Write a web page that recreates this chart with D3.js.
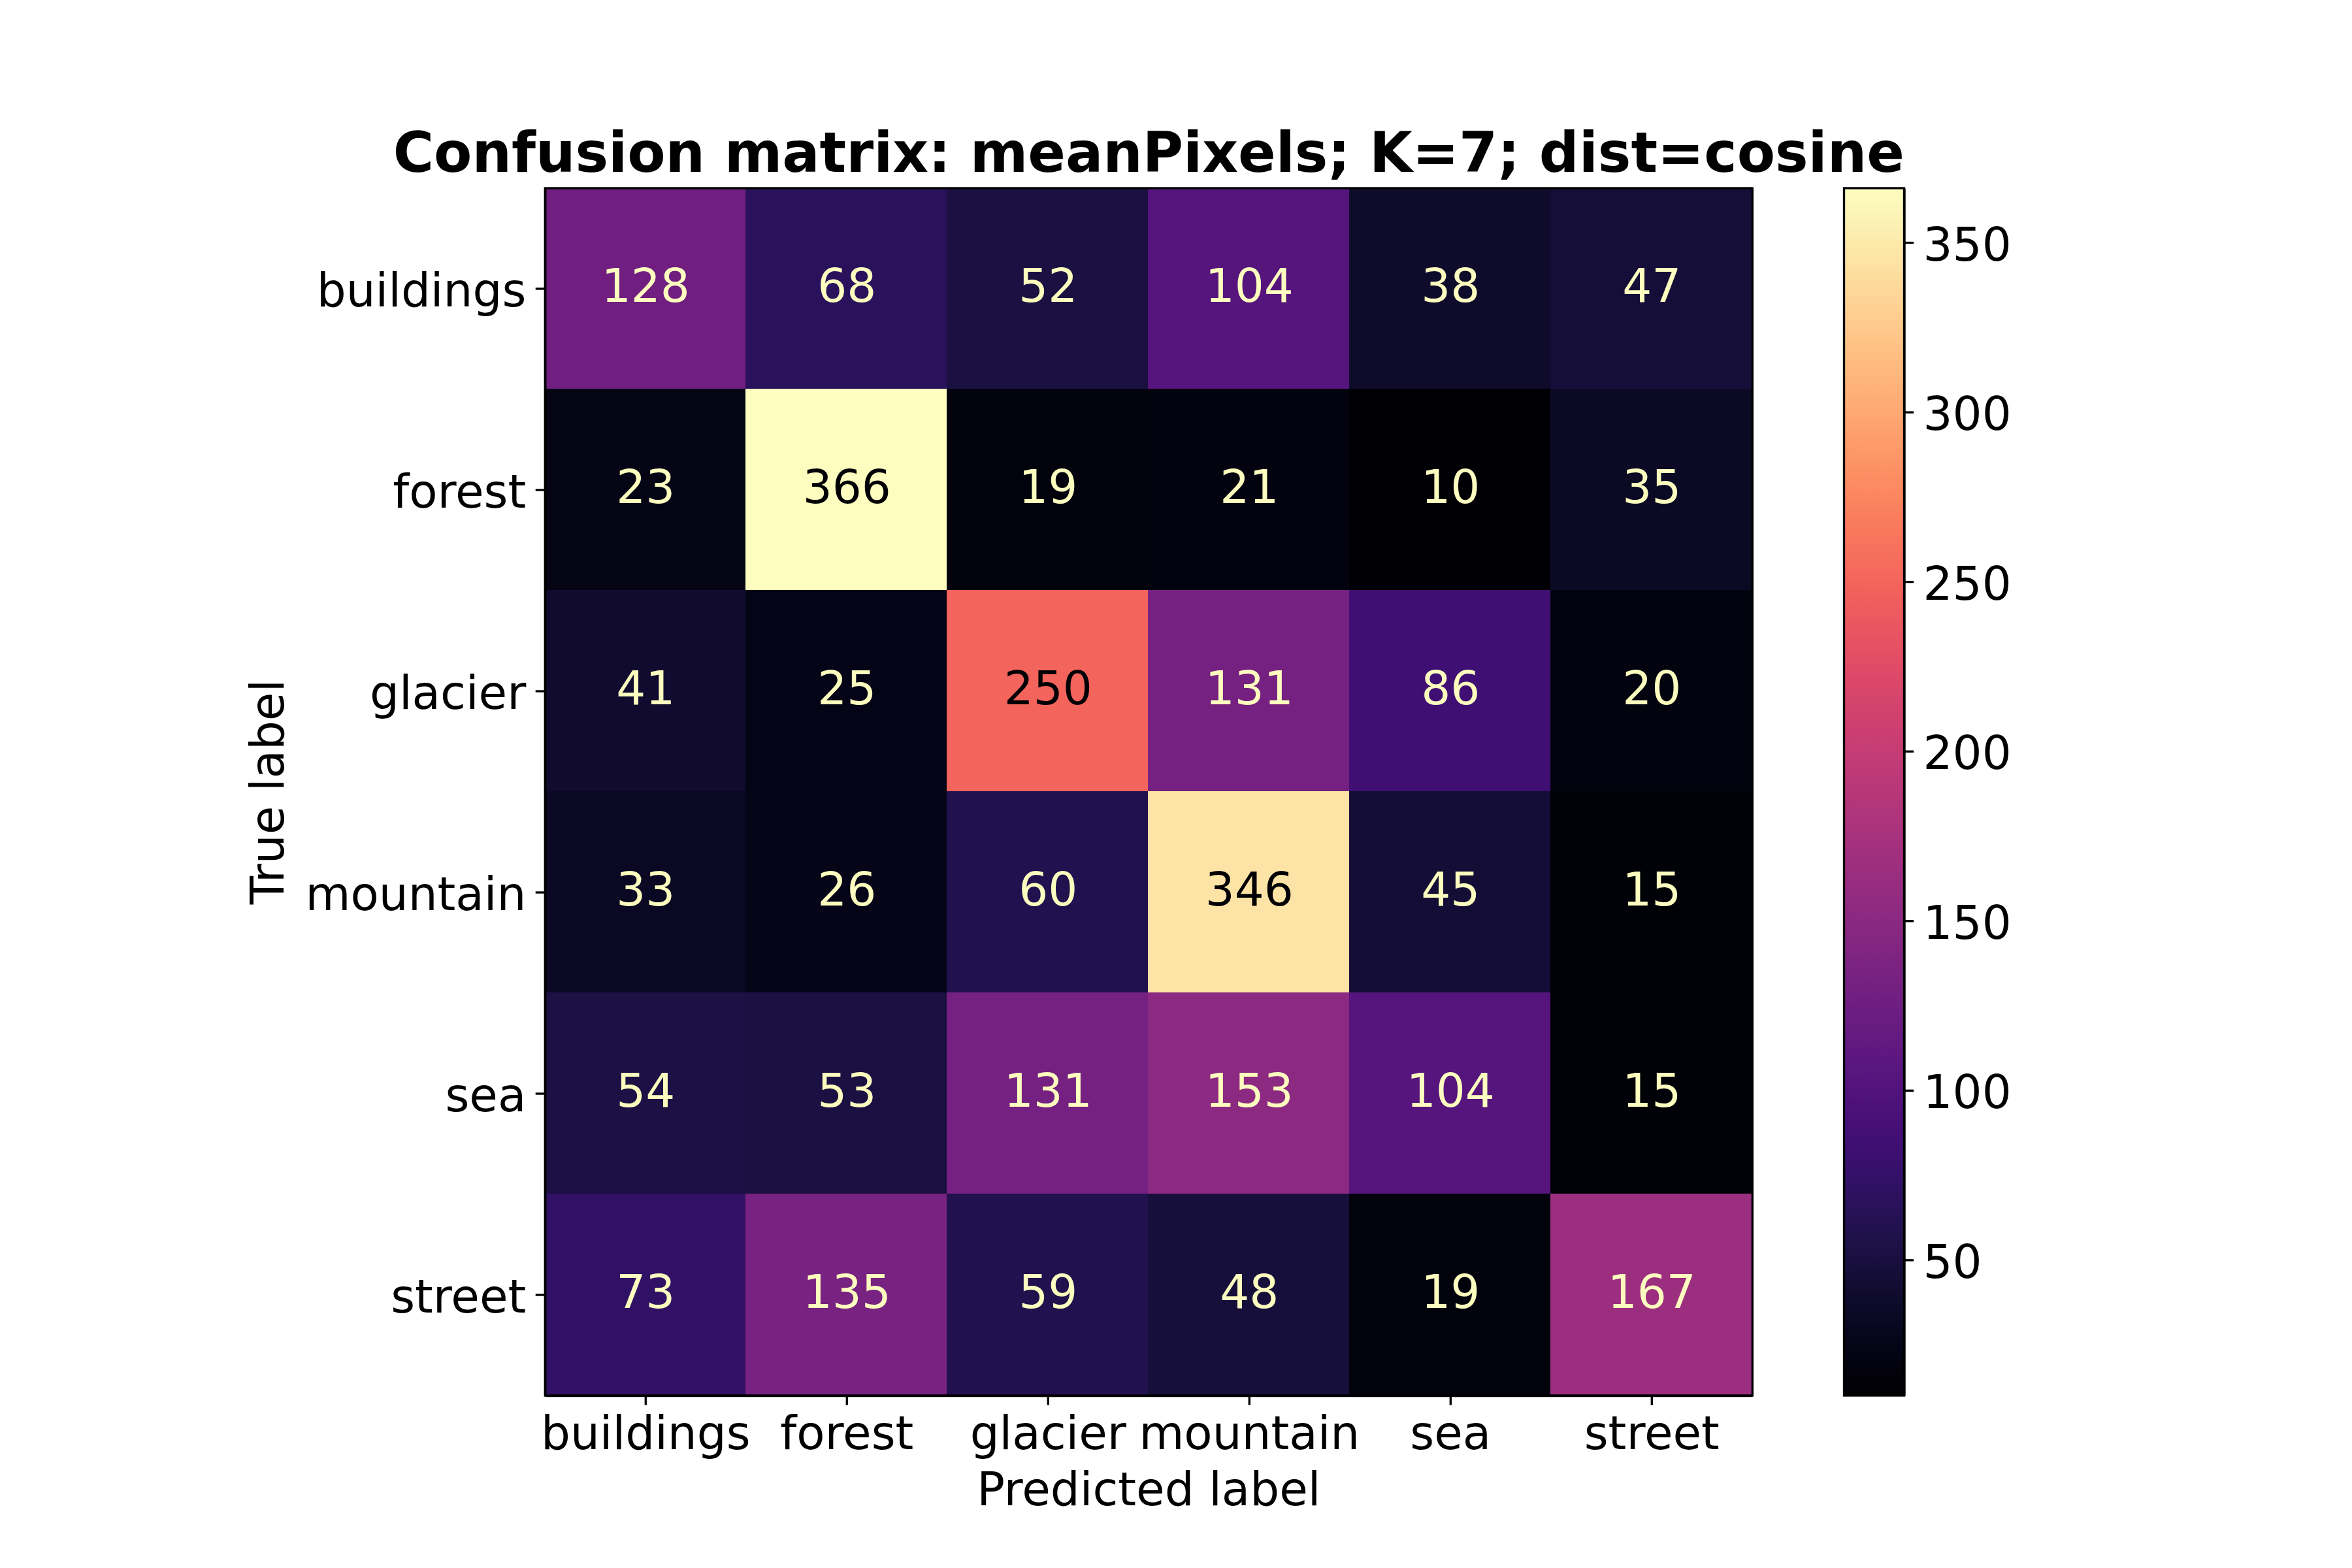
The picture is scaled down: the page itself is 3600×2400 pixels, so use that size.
<!DOCTYPE html>
<html>
<head>
<meta charset="utf-8">
<script src="https://d3js.org/d3.v7.min.js"></script>
<style>
body { margin: 0; background: white; }
text { font-family: "DejaVu Sans"; fill: black; }
</style>
</head>
<body>
<div id="chart"></div>
<script>
const categories = ["buildings", "forest", "glacier", "mountain", "sea", "street"]
const buildingsRow = [128, 68, 52, 104, 38, 47]
const forestRow = [23, 366, 19, 21, 10, 35]
const glacierRow = [41, 25, 250, 131, 86, 20]
const mountainRow = [33, 26, 60, 346, 45, 15]
const seaRow = [54, 53, 131, 153, 104, 15]
const streetRow = [73, 135, 59, 48, 19, 167]
const rows = [buildingsRow, forestRow, glacierRow, mountainRow, seaRow, streetRow]
const colorTicks = [50, 100, 150, 200, 250, 300, 350]
const colorDomain = [10, 366]

const width = 3600
const height = 2400
const pt = 300 / 72
const fontTick = 17 * pt
const plotLeft = 834.3, plotRight = 2682.3, plotTop = 288, plotBottom = 2136
const barLeft = 2822.5, barRight = 2914.5

const svg = d3.select("#chart").append("svg")
    .attr("width", width).attr("height", height)
    .style("display", "block")

const x = d3.scaleBand().domain(categories).range([plotLeft, plotRight])
const y = d3.scaleBand().domain(categories).range([plotTop, plotBottom])
const color = d3.scaleSequential(d3.interpolateMagma).domain(colorDomain)
const barY = d3.scaleLinear().domain(colorDomain).range([plotBottom, plotTop])

const cells = rows.flatMap((row, i) => row.map((value, j) => ({
    rowName: categories[i], colName: categories[j], value: value
})))

// the cell grid sits a pixel up and left of the ticks in the original
svg.append("g").attr("transform", "translate(-1,-1.3)")
    .selectAll("rect").data(cells)
    .join("rect")
        .attr("x", d => x(d.colName))
        .attr("y", d => y(d.rowName))
        .attr("width", x.bandwidth())
        .attr("height", y.bandwidth())
        .attr("fill", d => color(d.value))
        .attr("shape-rendering", "crispEdges")

// text flips to dark over the bright half of the colour range
const flip = (colorDomain[0] + colorDomain[1]) / 2
svg.append("g").selectAll("text").data(cells)
    .join("text")
        .attr("x", d => x(d.colName) + x.bandwidth() / 2)
        .attr("y", d => y(d.rowName) + y.bandwidth() / 2 + 20)
        .attr("text-anchor", "middle")
        .style("font-size", fontTick + "px")
        .style("fill", d => d.value < flip ? "#fcfdbf" : "#000004")
        .text(d => d.value)

// colorbar
const defs = svg.append("defs")
const grad = defs.append("linearGradient").attr("id", "magmaBar")
    .attr("x1", 0).attr("y1", 1).attr("x2", 0).attr("y2", 0)
grad.selectAll("stop").data(d3.range(0, 1.0001, 1 / 64))
    .join("stop")
        .attr("offset", d => d)
        .attr("stop-color", d => d3.interpolateMagma(d))
svg.append("rect")
    .attr("x", barLeft).attr("y", plotTop)
    .attr("width", barRight - barLeft).attr("height", plotBottom - plotTop)
    .attr("fill", "url(#magmaBar)")

function styleAxis(g) {
    g.selectAll("path, line").attr("stroke", "black").attr("stroke-width", 0.8 * pt)
    g.selectAll("text").style("font-size", fontTick + "px").attr("fill", "black")
}

const tickLen = 3.5 * pt
const xAxis = d3.axisBottom(x).tickSize(tickLen).tickSizeOuter(0)
const yAxis = d3.axisLeft(y).tickSize(tickLen).tickSizeOuter(0)
const barAxis = d3.axisRight(barY).tickValues(colorTicks).tickSize(tickLen).tickSizeOuter(0)

svg.append("g").attr("transform", `translate(0,${plotBottom})`).call(xAxis).call(styleAxis)
    .selectAll("text").attr("y", 81.5).attr("dy", 0)
svg.append("g").attr("transform", `translate(${plotLeft},0)`).call(yAxis).call(styleAxis)
    .selectAll("text").attr("x", -29).attr("dy", 27)
svg.append("g").attr("transform", `translate(${barRight},0)`).call(barAxis).call(styleAxis)
    .selectAll("text").attr("x", 29).attr("dy", 27)

// frames round the heatmap and the colorbar
for (const [x0, x1] of [[plotLeft, plotRight], [barLeft, barRight]]) {
    svg.append("rect")
        .attr("x", x0).attr("y", plotTop)
        .attr("width", x1 - x0).attr("height", plotBottom - plotTop)
        .attr("fill", "none").attr("stroke", "black").attr("stroke-width", 0.8 * pt)
}

svg.append("text")
    .attr("x", (plotLeft + plotRight) / 2).attr("y", 263)
    .attr("text-anchor", "middle")
    .style("font-size", 20.4 * pt + "px")
    .style("font-weight", "bold")
    .text("Confusion matrix: meanPixels; K=7; dist=cosine")

svg.append("text")
    .attr("x", (plotLeft + plotRight) / 2).attr("y", 2303.5)
    .attr("text-anchor", "middle")
    .style("font-size", fontTick + "px")
    .text("Predicted label")

svg.append("text")
    .attr("transform", `translate(434,${(plotTop + plotBottom) / 2}) rotate(-90)`)
    .attr("text-anchor", "middle")
    .style("font-size", fontTick + "px")
    .text("True label")
</script>
</body>
</html>
